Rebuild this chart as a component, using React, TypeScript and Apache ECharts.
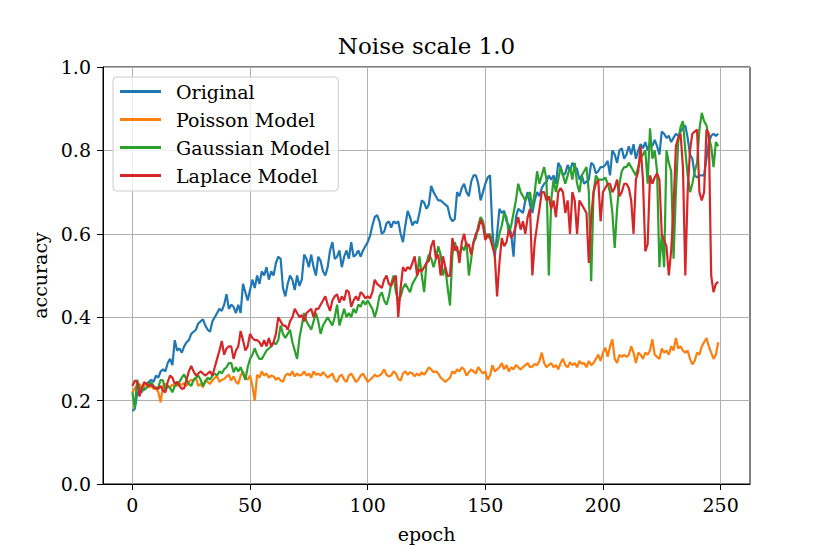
import React, { useEffect, useRef } from "react";
import * as echarts from "echarts";

const epochTicks = [0, 50, 100, 150, 200, 250];
const seriesNames = ["Original", "Poisson Model", "Gaussian Model", "Laplace Model"];
const colors = ["#1f77b4", "#ff7f0e", "#2ca02c", "#d62728"];

const original = [
  0.175, 0.18, 0.215, 0.225, 0.22, 0.235, 0.24, 0.245, 0.25, 0.245,
  0.26, 0.255, 0.27, 0.275, 0.27, 0.29, 0.30, 0.285, 0.345, 0.32,
  0.325, 0.315, 0.33, 0.34, 0.345, 0.36, 0.365, 0.37, 0.385, 0.39,
  0.395, 0.38, 0.37, 0.365, 0.39, 0.40, 0.41, 0.42, 0.415, 0.43,
  0.455, 0.42, 0.43, 0.425, 0.41, 0.43, 0.41, 0.48, 0.46, 0.44,
  0.465, 0.49, 0.47, 0.50, 0.48, 0.51, 0.50, 0.52, 0.49, 0.51,
  0.50, 0.53, 0.545, 0.54, 0.47, 0.45, 0.48, 0.50, 0.49, 0.465,
  0.50, 0.475, 0.49, 0.55, 0.54, 0.52, 0.55, 0.52, 0.50, 0.545,
  0.535, 0.51, 0.50, 0.52, 0.56, 0.58, 0.54, 0.545, 0.56, 0.52,
  0.545, 0.56, 0.54, 0.58, 0.545, 0.55, 0.56, 0.545, 0.56, 0.57,
  0.58, 0.595, 0.62, 0.64, 0.645, 0.63, 0.60, 0.605, 0.625, 0.63,
  0.615, 0.63, 0.625, 0.63, 0.60, 0.58, 0.62, 0.655, 0.64, 0.62,
  0.63, 0.625, 0.65, 0.68, 0.675, 0.66, 0.67, 0.715, 0.70, 0.69,
  0.68, 0.68, 0.675, 0.67, 0.665, 0.64, 0.63, 0.635, 0.70, 0.69,
  0.71, 0.72, 0.70, 0.69, 0.725, 0.74, 0.74, 0.72, 0.68, 0.70,
  0.72, 0.735, 0.74, 0.61, 0.545, 0.60, 0.66, 0.65, 0.655, 0.63,
  0.62, 0.60, 0.545, 0.64, 0.66, 0.655, 0.65, 0.68, 0.70, 0.67,
  0.65, 0.68, 0.70, 0.69, 0.71, 0.72, 0.725, 0.74, 0.73, 0.74,
  0.72, 0.77, 0.76, 0.74, 0.745, 0.765, 0.75, 0.77, 0.76, 0.755,
  0.73, 0.74, 0.72, 0.725, 0.73, 0.77, 0.765, 0.745, 0.75, 0.76,
  0.76, 0.765, 0.775, 0.74, 0.80, 0.79, 0.77, 0.80, 0.805, 0.78,
  0.79, 0.81, 0.79, 0.815, 0.78, 0.80, 0.815, 0.805, 0.82, 0.80,
  0.82, 0.81, 0.825, 0.81, 0.79, 0.845, 0.84, 0.83, 0.835, 0.82,
  0.83, 0.84, 0.835, 0.845, 0.855, 0.86, 0.83, 0.79, 0.78, 0.74,
  0.735, 0.74, 0.74, 0.74, 0.78, 0.82, 0.835, 0.84, 0.835, 0.84,
];

const poisson = [
  0.22, 0.23, 0.235, 0.24, 0.23, 0.235, 0.24, 0.232, 0.235, 0.228,
  0.23, 0.22, 0.196, 0.235, 0.24, 0.236, 0.232, 0.238, 0.235, 0.236,
  0.24, 0.238, 0.242, 0.235, 0.245, 0.25, 0.248, 0.255, 0.235, 0.24,
  0.232, 0.25, 0.245, 0.24, 0.248, 0.255, 0.258, 0.245, 0.25, 0.252,
  0.258, 0.262, 0.248, 0.258, 0.245, 0.24, 0.26, 0.27, 0.255, 0.25,
  0.26, 0.235, 0.20, 0.262, 0.255, 0.27, 0.26, 0.265, 0.255, 0.26,
  0.258, 0.25, 0.255, 0.248, 0.245, 0.26, 0.265, 0.26, 0.27, 0.258,
  0.265, 0.26, 0.262, 0.27, 0.26, 0.265, 0.255, 0.27, 0.262, 0.265,
  0.26, 0.268, 0.262, 0.255, 0.26, 0.265, 0.25, 0.245, 0.258, 0.262,
  0.25, 0.245, 0.26, 0.265, 0.255, 0.245, 0.25, 0.26, 0.265, 0.255,
  0.245, 0.25, 0.255, 0.262, 0.258, 0.26, 0.265, 0.275, 0.262, 0.258,
  0.26, 0.27, 0.265, 0.252, 0.248, 0.265, 0.27, 0.262, 0.268, 0.265,
  0.258, 0.265, 0.26, 0.268, 0.262, 0.27, 0.28, 0.275, 0.268, 0.27,
  0.265, 0.255, 0.25, 0.245, 0.25, 0.255, 0.27, 0.265, 0.275, 0.27,
  0.28, 0.275, 0.26, 0.268, 0.275, 0.27, 0.265, 0.28, 0.272, 0.265,
  0.27, 0.25, 0.26, 0.285, 0.27, 0.275, 0.28, 0.29, 0.275, 0.285,
  0.27, 0.28, 0.275, 0.285, 0.28, 0.275, 0.28, 0.285, 0.29, 0.28,
  0.282, 0.288, 0.285, 0.295, 0.315, 0.29, 0.28, 0.285, 0.29, 0.28,
  0.285, 0.275, 0.29, 0.30, 0.285, 0.28, 0.292, 0.285, 0.29, 0.28,
  0.295, 0.288, 0.29, 0.28, 0.295, 0.285, 0.29, 0.30, 0.31, 0.295,
  0.315, 0.327, 0.305, 0.33, 0.347, 0.30, 0.29, 0.31, 0.305, 0.31,
  0.305, 0.31, 0.33, 0.315, 0.29, 0.315, 0.31, 0.30, 0.315, 0.31,
  0.32, 0.347, 0.31, 0.305, 0.30, 0.325, 0.315, 0.32, 0.31, 0.33,
  0.32, 0.35, 0.325, 0.33, 0.32, 0.315, 0.32, 0.30, 0.287, 0.295,
  0.315, 0.31, 0.33, 0.34, 0.35, 0.33, 0.315, 0.30, 0.31, 0.34,
];

const gaussian = [
  0.22, 0.18, 0.25, 0.23, 0.225, 0.226, 0.23, 0.24, 0.244, 0.235,
  0.23, 0.232, 0.25, 0.248, 0.225, 0.235, 0.23, 0.22, 0.235, 0.24,
  0.245, 0.255, 0.263, 0.25, 0.24, 0.235, 0.25, 0.255, 0.26, 0.25,
  0.235, 0.245, 0.255, 0.25, 0.26, 0.265, 0.26, 0.27, 0.265, 0.275,
  0.28, 0.29, 0.29, 0.268, 0.28, 0.27, 0.28, 0.265, 0.25, 0.28,
  0.30, 0.31, 0.325, 0.31, 0.30, 0.30, 0.31, 0.32, 0.325, 0.33,
  0.34, 0.335, 0.345, 0.38, 0.36, 0.35, 0.36, 0.37, 0.34, 0.32,
  0.30, 0.35, 0.38, 0.41, 0.39, 0.38, 0.37, 0.39, 0.41, 0.39,
  0.36, 0.38, 0.39, 0.40, 0.39, 0.38, 0.40, 0.43, 0.38, 0.40,
  0.42, 0.40, 0.41, 0.40, 0.42, 0.41, 0.43, 0.425, 0.44, 0.43,
  0.44, 0.43, 0.42, 0.40, 0.42, 0.45, 0.46, 0.44, 0.43, 0.45,
  0.48, 0.50, 0.46, 0.44, 0.45, 0.47, 0.48, 0.47, 0.46, 0.48,
  0.49, 0.50, 0.546, 0.50, 0.46, 0.53, 0.55, 0.54, 0.52, 0.54,
  0.57, 0.55, 0.50, 0.52, 0.47, 0.428, 0.55, 0.58, 0.56, 0.55,
  0.57, 0.56, 0.58, 0.50, 0.54, 0.58, 0.59, 0.62, 0.64, 0.63,
  0.60, 0.59, 0.60, 0.58, 0.56, 0.57, 0.60, 0.62, 0.65, 0.64,
  0.60, 0.62, 0.65, 0.68, 0.72, 0.70, 0.69, 0.68, 0.69, 0.70,
  0.66, 0.70, 0.75, 0.72, 0.74, 0.76, 0.73, 0.50, 0.68, 0.73,
  0.70, 0.73, 0.76, 0.74, 0.72, 0.74, 0.76, 0.73, 0.77, 0.72,
  0.70, 0.74, 0.75, 0.76, 0.70, 0.486, 0.70, 0.74, 0.73, 0.73,
  0.73, 0.735, 0.72, 0.70, 0.65, 0.566, 0.66, 0.72, 0.75, 0.76,
  0.76, 0.77, 0.76, 0.75, 0.74, 0.76, 0.78, 0.79, 0.80, 0.72,
  0.853, 0.78, 0.80, 0.75, 0.52, 0.60, 0.52, 0.80, 0.77, 0.75,
  0.54, 0.70, 0.82, 0.857, 0.87, 0.80, 0.74, 0.70, 0.72, 0.75,
  0.77, 0.85, 0.89, 0.87, 0.86, 0.83, 0.81, 0.76, 0.82, 0.81,
];

const laplace = [
  0.235, 0.248, 0.245, 0.21, 0.23, 0.244, 0.24, 0.235, 0.238, 0.232,
  0.23, 0.228, 0.235, 0.224, 0.22, 0.245, 0.26, 0.255, 0.24, 0.245,
  0.235, 0.228, 0.23, 0.25, 0.27, 0.283, 0.27, 0.26, 0.265, 0.27,
  0.265, 0.26, 0.265, 0.27, 0.26, 0.28, 0.30, 0.32, 0.343, 0.31,
  0.325, 0.33, 0.33, 0.30, 0.32, 0.33, 0.367, 0.345, 0.32, 0.33,
  0.36, 0.35, 0.345, 0.345, 0.34, 0.33, 0.345, 0.33, 0.35, 0.33,
  0.34, 0.36, 0.40, 0.39, 0.38, 0.38, 0.37, 0.39, 0.40, 0.42,
  0.41, 0.40, 0.405, 0.39, 0.41, 0.415, 0.42, 0.40, 0.42, 0.42,
  0.43, 0.44, 0.45, 0.43, 0.415, 0.44, 0.45, 0.455, 0.435, 0.45,
  0.44, 0.465, 0.46, 0.425, 0.44, 0.45, 0.44, 0.46, 0.455, 0.445,
  0.45, 0.445, 0.46, 0.49, 0.48, 0.475, 0.47, 0.49, 0.50, 0.48,
  0.475, 0.49, 0.50, 0.40, 0.47, 0.52, 0.51, 0.52, 0.515, 0.53,
  0.546, 0.50, 0.515, 0.51, 0.52, 0.53, 0.535, 0.57, 0.585, 0.54,
  0.55, 0.50, 0.546, 0.52, 0.498, 0.50, 0.59, 0.56, 0.57, 0.53,
  0.58, 0.60, 0.57, 0.575, 0.55, 0.58, 0.60, 0.61, 0.634, 0.62,
  0.585, 0.60, 0.59, 0.57, 0.55, 0.45, 0.53, 0.59, 0.57, 0.58,
  0.61, 0.59, 0.60, 0.62, 0.64, 0.61, 0.63, 0.60, 0.64, 0.66,
  0.50, 0.58, 0.62, 0.66, 0.70, 0.70, 0.68, 0.69, 0.66, 0.68,
  0.64, 0.70, 0.71, 0.70, 0.65, 0.68, 0.60, 0.70, 0.68, 0.60,
  0.68, 0.67, 0.66, 0.65, 0.53, 0.64, 0.70, 0.72, 0.73, 0.63,
  0.70, 0.71, 0.72, 0.72, 0.70, 0.71, 0.73, 0.69, 0.70, 0.72,
  0.72, 0.71, 0.68, 0.60, 0.73, 0.75, 0.81, 0.73, 0.558, 0.575,
  0.74, 0.72, 0.735, 0.745, 0.73, 0.60, 0.585, 0.57, 0.50, 0.56,
  0.66, 0.81, 0.83, 0.84, 0.76, 0.50, 0.70, 0.80, 0.84, 0.845,
  0.85, 0.70, 0.68, 0.70, 0.85, 0.84, 0.50, 0.46, 0.48, 0.485,
];

const allSeries = [original, poisson, gaussian, laplace];
const FONT = "DejaVu Serif";

export default function App() {
  const ref = useRef<HTMLDivElement>(null);
  useEffect(() => {
    if (!ref.current) return;
    const chart = echarts.init(ref.current, null, { renderer: "svg" });
    chart.setOption({
      animation: false,
      backgroundColor: "#ffffff",
      textStyle: { fontFamily: FONT },
      grid: {
        left: 103,
        right: 80,
        top: 67,
        bottom: 70,
        show: true,
        borderColor: "#000",
        borderWidth: 1,
      },
      graphic: [
        {
          type: "text",
          x: 426.5,
          y: 46,
          style: {
            text: "Noise scale 1.0",
            fontFamily: FONT,
            fontSize: 23,
            fill: "#000",
            textAlign: "center",
            textVerticalAlign: "middle",
          },
        },
      ],
      legend: {
        orient: "vertical",
        left: 113,
        top: 77,
        data: seriesNames,
        icon: "rect",
        itemWidth: 41,
        itemHeight: 3,
        itemGap: 9,
        padding: [5, 8, 6, 7],
        backgroundColor: "rgba(255,255,255,0.8)",
        borderColor: "#cccccc",
        borderWidth: 1,
        borderRadius: 4,
        textStyle: { fontFamily: FONT, fontSize: 19, color: "#000", padding: [0, 0, 0, 10] },
      },
      xAxis: {
        type: "value",
        min: -12.5,
        max: 262.5,
        name: "epoch",
        nameLocation: "middle",
        nameGap: 40,
        nameTextStyle: { fontFamily: FONT, fontSize: 19, color: "#000" },
        axisLine: { show: true, onZero: false, lineStyle: { color: "#000", width: 1 } },
        axisTick: { show: true, length: 6, customValues: epochTicks, lineStyle: { color: "#000" } },
        axisLabel: {
          customValues: epochTicks,
          fontFamily: FONT,
          fontSize: 19,
          color: "#000",
          margin: 11,
        },
        splitLine: { show: true, lineStyle: { color: "#b0b0b0", width: 1 } },
      },
      yAxis: {
        type: "value",
        min: 0,
        max: 1,
        interval: 0.2,
        name: "accuracy",
        nameLocation: "middle",
        nameGap: 54,
        nameRotate: 90,
        nameTextStyle: { fontFamily: FONT, fontSize: 19, color: "#000" },
        axisLine: { show: true, onZero: false, lineStyle: { color: "#000", width: 1 } },
        axisTick: { show: true, length: 6, lineStyle: { color: "#000" } },
        axisLabel: {
          fontFamily: FONT,
          fontSize: 19,
          color: "#000",
          margin: 12,
          formatter: (v: number) => v.toFixed(1),
        },
        splitLine: { show: true, lineStyle: { color: "#b0b0b0", width: 1 } },
      },
      series: allSeries.map((vals, si) => ({
        name: seriesNames[si],
        type: "line",
        data: vals.map((v, i) => [i, v]),
        showSymbol: false,
        symbol: "none",
        color: colors[si],
        lineStyle: { color: colors[si], width: 2.2 },
        z: 2 + si,
      })),
    });
    return () => chart.dispose();
  }, []);
  return (
    <div
      ref={ref}
      style={{ position: "fixed", left: 0, top: 0, width: 830, height: 554 }}
    />
  );
}
